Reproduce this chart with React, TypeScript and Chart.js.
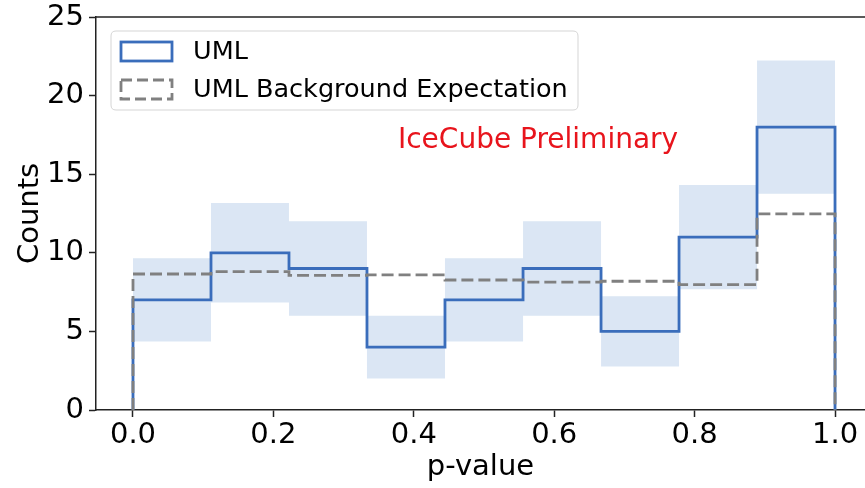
import React, { useEffect, useRef } from "react";
import { Chart, registerables } from "chart.js";

Chart.register(...registerables);

const binEdges = [0, 0.1111, 0.2222, 0.3333, 0.4444, 0.5556, 0.6667, 0.7778, 0.8889, 1.0];
const umlCounts = [7, 10, 9, 4, 7, 9, 5, 11, 18];
const bgExpectation = [8.65, 8.8, 8.57, 8.6, 8.27, 8.14, 8.19, 7.97, 12.47];
const bandLower = [4.35, 6.84, 6.0, 2.0, 4.35, 6.0, 2.76, 7.68, 13.76];
const bandUpper = [9.65, 13.16, 12.0, 6.0, 9.65, 12.0, 7.24, 14.32, 22.24];
const xTicks = [0.0, 0.2, 0.4, 0.6, 0.8, 1.0];
const yTicks = [0, 5, 10, 15, 20, 25];
const legendLabels = ["UML", "UML Background Expectation"];
const annotationText = "IceCube Preliminary";

const FONT = "'DejaVu Sans', sans-serif";
const BLUE = "#3a6dbb";
const GRAY = "#808080";
const BAND = "rgba(160, 190, 225, 0.38)";
const AXIS = "#222";

function stepPoints(values: number[], toZero: boolean) {
  const pts: { x: number; y: number }[] = [];
  if (toZero) pts.push({ x: binEdges[0], y: 0 });
  values.forEach((v, i) => {
    pts.push({ x: binEdges[i], y: v });
    pts.push({ x: binEdges[i + 1], y: v });
  });
  if (toZero) pts.push({ x: binEdges[binEdges.length - 1], y: 0 });
  return pts;
}

const overlayPlugin = {
  id: "overlay",
  afterDraw(chart: any) {
    const { ctx, chartArea, scales } = chart;
    ctx.save();
    // top spine
    ctx.strokeStyle = AXIS;
    ctx.lineWidth = 1.5;
    ctx.beginPath();
    ctx.moveTo(chartArea.left, chartArea.top);
    ctx.lineTo(chartArea.right, chartArea.top);
    ctx.stroke();

    // annotation
    ctx.fillStyle = "#e8141c";
    ctx.font = `28px ${FONT}`;
    ctx.textAlign = "center";
    ctx.textBaseline = "middle";
    ctx.fillText(annotationText, scales.x.getPixelForValue(0.577), scales.y.getPixelForValue(17.1));

    // legend
    const bx = 111, by = 31, bw = 467, bh = 79, r = 5;
    ctx.beginPath();
    ctx.moveTo(bx + r, by);
    ctx.lineTo(bx + bw - r, by);
    ctx.quadraticCurveTo(bx + bw, by, bx + bw, by + r);
    ctx.lineTo(bx + bw, by + bh - r);
    ctx.quadraticCurveTo(bx + bw, by + bh, bx + bw - r, by + bh);
    ctx.lineTo(bx + r, by + bh);
    ctx.quadraticCurveTo(bx, by + bh, bx, by + bh - r);
    ctx.lineTo(bx, by + r);
    ctx.quadraticCurveTo(bx, by, bx + r, by);
    ctx.closePath();
    ctx.fillStyle = "rgba(255,255,255,0.8)";
    ctx.fill();
    ctx.strokeStyle = "#d5d5d5";
    ctx.lineWidth = 1;
    ctx.stroke();

    ctx.lineWidth = 2.8;
    ctx.strokeStyle = BLUE;
    ctx.setLineDash([]);
    ctx.strokeRect(121, 42, 51, 19);
    ctx.strokeStyle = GRAY;
    ctx.setLineDash([11, 5]);
    ctx.strokeRect(121, 80, 51, 19);
    ctx.setLineDash([]);

    ctx.fillStyle = "#000";
    ctx.textAlign = "left";
    ctx.font = `25.5px ${FONT}`;
    ctx.fillText(legendLabels[0], 193, 52);
    ctx.fillText(legendLabels[1], 193, 90);
    ctx.restore();
  },
};

export default function App() {
  const ref = useRef<HTMLCanvasElement | null>(null);
  useEffect(() => {
    if (!ref.current) return;
    const chart = new Chart(ref.current, {
      type: "scatter",
      data: {
        datasets: [
          {
            label: legendLabels[1],
            data: stepPoints(bgExpectation, true),
            showLine: true,
            borderColor: GRAY,
            borderWidth: 2.8,
            borderDash: [12, 5],
            pointRadius: 0,
            fill: false,
          },
          {
            label: legendLabels[0],
            data: stepPoints(umlCounts, true),
            showLine: true,
            borderColor: BLUE,
            borderWidth: 2.8,
            pointRadius: 0,
            fill: false,
          },
          {
            label: "band upper",
            data: stepPoints(bandUpper, false),
            showLine: true,
            borderWidth: 0,
            borderColor: "rgba(0,0,0,0)",
            backgroundColor: BAND,
            pointRadius: 0,
            fill: "+1",
          },
          {
            label: "band lower",
            data: stepPoints(bandLower, false),
            showLine: true,
            borderWidth: 0,
            borderColor: "rgba(0,0,0,0)",
            pointRadius: 0,
            fill: false,
          },
        ],
      },
      options: {
        animation: false,
        responsive: true,
        maintainAspectRatio: false,
        layout: { padding: { top: 17, right: 0, left: 0, bottom: 0 } },
        plugins: { legend: { display: false }, tooltip: { enabled: false } },
        scales: {
          x: {
            type: "linear",
            min: -0.0527,
            max: 1.0427,
            afterBuildTicks: (scale: any) => {
              scale.ticks = xTicks.map((v) => ({ value: v }));
            },
            afterFit: (scale: any) => {
              scale.height = 78;
              scale.paddingLeft = 0;
              scale.paddingRight = 0;
            },
            ticks: {
              color: "#000",
              font: { family: FONT, size: 29 },
              padding: 1,
              maxRotation: 0,
              callback: (v: any) => Number(v).toFixed(1),
            },
            grid: { display: true, drawOnChartArea: false, tickLength: 7, tickColor: AXIS, tickWidth: 1.5 },
            border: { display: true, color: AXIS, width: 1.5 },
            title: { display: true, text: "p-value", color: "#000", font: { family: FONT, size: 29 }, padding: { top: 0, bottom: 3 } },
          },
          y: {
            type: "linear",
            min: 0,
            max: 25,
            afterBuildTicks: (scale: any) => {
              scale.ticks = yTicks.map((v) => ({ value: v }));
            },
            afterFit: (scale: any) => {
              scale.width = 96;
              scale.paddingTop = 0;
              scale.paddingBottom = 0;
            },
            ticks: { color: "#000", font: { family: FONT, size: 29 }, padding: 5 },
            grid: { display: true, drawOnChartArea: false, tickLength: 7, tickColor: AXIS, tickWidth: 1.5 },
            border: { display: true, color: AXIS, width: 1.5 },
            title: { display: true, text: "Counts", color: "#000", font: { family: FONT, size: 29 }, padding: { top: 13, bottom: 0 } },
          },
        },
      },
      plugins: [overlayPlugin],
    });
    return () => chart.destroy();
  }, []);
  return (
    <div style={{ position: "absolute", left: 0, top: 0, width: 865, height: 488, background: "#fff" }}>
      <canvas ref={ref} />
    </div>
  );
}
